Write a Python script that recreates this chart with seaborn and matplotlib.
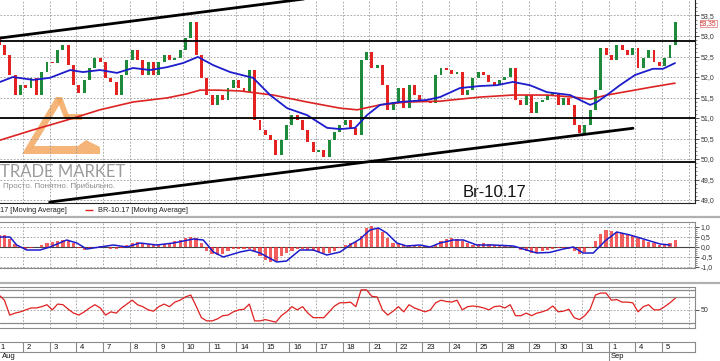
import numpy as np
import pandas as pd
import matplotlib
matplotlib.use('Agg')
import matplotlib.pyplot as plt
import seaborn as sns
from matplotlib.patches import Polygon
import matplotlib.transforms as mtrans

# ---- data ----
# hourly-ish closes, 5 bars per trading day
first_open = 52.95
closes = [52.78, 52.54, 52.05, 51.56, 51.80, 51.73, 51.98, 51.56, 52.12, 52.37,
          52.33, 52.66, 52.78, 52.29, 51.80, 51.61, 51.93, 52.22, 52.46, 52.37,
          51.98, 51.88, 51.56, 52.05, 52.41, 52.66, 52.41, 52.05, 52.37, 52.05,
          52.37, 52.54, 52.41, 52.46, 52.66, 52.95, 53.34, 52.54, 51.98, 51.56,
          51.32, 51.56, 51.44, 51.73, 51.93, 51.73, 51.63, 52.17, 50.95, 50.71,
          50.59, 50.46, 50.10, 50.46, 50.83, 51.07, 50.95, 50.71, 50.41, 50.17,
          50.22, 50.05, 50.46, 50.66, 50.83, 50.95, 50.76, 50.59, 52.41, 52.61,
          52.22, 52.29, 51.80, 51.20, 51.39, 51.73, 51.24, 51.80, 51.56, 51.44,
          51.39, 51.37, 52.05, 52.22, 52.17, 52.07, 52.12, 51.56, 51.68, 51.98,
          52.12, 52.05, 51.88, 51.80, 51.93, 52.00, 52.22, 51.44, 51.32, 51.56,
          51.12, 51.39, 51.44, 51.56, 51.61, 51.32, 51.49, 51.32, 50.83, 50.63,
          50.83, 51.20, 51.68, 52.71, 52.54, 52.41, 52.78, 52.66, 52.54, 52.71,
          52.22, 52.46, 52.66, 52.37, 52.27, 52.46, 52.78, 53.35]

# moving averages (day position, price)
blue_t = [0.14, 0.62, 1.38, 2.01, 2.77, 3.25, 3.89, 4.53, 5.13, 5.77, 6.41, 7.01, 7.57,
          8.14, 8.78, 9.64, 10.28, 10.92, 11.67, 12.42, 12.91, 13.47, 13.92, 14.41,
          15.16, 16.17, 16.66, 17.41, 18.16, 18.80, 19.40, 20.04, 20.68, 21.55, 21.92,
          22.30, 22.56, 22.93, 23.42, 23.99, 24.66, 25.04, 25.49]
blue_p = [51.88, 52.00, 51.93, 51.98, 52.17, 52.12, 52.17, 52.10, 52.22, 52.17, 52.24,
          52.34, 52.49, 52.29, 52.12, 51.98, 51.56, 51.24, 51.07, 50.76, 50.73, 50.76,
          51.07, 51.32, 51.39, 51.44, 51.51, 51.73, 51.78, 51.80, 51.88, 51.80, 51.63,
          51.56, 51.44, 51.32, 51.39, 51.56, 51.80, 52.05, 52.20, 52.20, 52.34]
red_t = [0.14, 1.38, 2.65, 3.89, 5.13, 6.41, 7.16, 7.65, 8.29, 9.15, 10.39, 11.67, 12.91,
         13.55, 14.41, 15.42, 16.66, 18.16, 19.40, 20.68, 21.66, 22.30, 22.93, 23.80,
         24.66, 25.49]
red_p = [50.46, 50.71, 50.95, 51.20, 51.39, 51.49, 51.59, 51.68, 51.68, 51.66, 51.56,
         51.39, 51.24, 51.20, 51.32, 51.39, 51.41, 51.51, 51.56, 51.56, 51.51, 51.46,
         51.56, 51.66, 51.76, 51.85]

levels = [52.88, 51.0, 49.92]
upper_t = [0.135, 12.0]
upper_p = [52.95, 53.94]
lower_t = [2.0, 23.91]
lower_p = [48.95, 50.75]
last_price = 53.35

macd_hist = [0.60, 0.58, 0.40, 0.15, -0.05, -0.10, -0.07, 0.00, 0.12, 0.18,
             0.25, 0.32, 0.35, 0.30, 0.20, -0.05, -0.15, -0.12, -0.05, 0.05,
             0.00, -0.08, -0.10, -0.05, 0.10, 0.22, 0.25, 0.22, 0.15, 0.10,
             0.10, 0.15, 0.22, 0.28, 0.35, 0.43, 0.50, 0.45, 0.20, -0.20,
             -0.37, -0.40, -0.36, -0.20, -0.12, -0.10, -0.10, -0.10, -0.20, -0.45,
             -0.65, -0.75, -0.68, -0.45, -0.32, -0.20, -0.10, -0.10, -0.13, -0.20,
             -0.27, -0.30, -0.30, -0.20, -0.05, 0.12, 0.20, 0.25, 0.55, 0.95,
             1.05, 0.97, 0.75, 0.45, 0.20, 0.15, 0.10, 0.10, 0.10, 0.07,
             0.03, -0.05, 0.08, 0.30, 0.40, 0.45, 0.40, 0.30, 0.20, 0.10,
             0.15, 0.20, 0.15, 0.10, 0.10, 0.10, 0.07, 0.00, -0.15, -0.22,
             -0.28, -0.28, -0.22, -0.15, -0.10, -0.07, -0.05, -0.12, -0.22, -0.35,
             -0.25, -0.05, 0.30, 0.65, 0.85, 0.80, 0.75, 0.70, 0.62, 0.55,
             0.45, 0.35, 0.27, 0.20, 0.12, 0.10, 0.20, 0.35]
sig_t = [0.14, 0.51, 0.76, 1.14, 1.64, 2.01, 2.64, 3.02, 3.39, 3.89, 4.39, 4.90, 5.39,
         6.02, 6.65, 7.40, 7.77, 8.15, 8.52, 9.15, 9.53, 9.90, 10.53, 10.90, 11.40,
         11.90, 12.41, 12.91, 13.28, 13.66, 14.03, 14.35, 14.66, 15.04, 15.41, 15.91,
         16.29, 16.66, 17.16, 17.54, 18.04, 18.66, 19.42, 19.79, 20.29, 20.79, 21.29,
         21.67, 22.04, 22.42, 22.86, 23.30, 23.80, 24.43, 24.93, 25.30]
sig_v = [0.5, 0.5, 0.1, -0.15, -0.15, 0.0, 0.35, 0.2, -0.1, 0.0, 0.1, 0.0, 0.2, 0.1, 0.2,
         0.4, 0.35, -0.25, -0.5, -0.25, -0.15, -0.3, -0.75, -0.7, -0.15, -0.15, -0.4,
         -0.25, 0.1, 0.4, 0.85, 0.95, 0.7, 0.2, 0.05, 0.1, 0.0, 0.2, 0.35, 0.35, 0.1,
         0.1, 0.05, -0.1, -0.3, -0.27, -0.1, 0.0, -0.3, -0.3, 0.3, 0.75, 0.6, 0.35,
         0.15, 0.1]

rsi = [73, 65, 42, 45, 47, 50, 53, 53, 55, 58,
       50, 59, 58, 51, 45, 42, 47, 53, 58, 53,
       42, 47, 45, 53, 59, 65, 58, 55, 50, 48,
       55, 59, 55, 62, 65, 70, 73, 56, 38, 33,
       33, 36, 41, 42, 47, 50, 51, 59, 33, 33,
       35, 33, 31, 41, 47, 55, 50, 55, 45, 38,
       38, 38, 47, 56, 61, 61, 62, 55, 81, 81,
       71, 70, 50, 42, 48, 55, 47, 58, 53, 50,
       47, 50, 61, 65, 63, 62, 65, 50, 55, 56,
       55, 53, 50, 55, 56, 53, 58, 41, 41, 45,
       41, 45, 47, 50, 56, 47, 48, 51, 38, 35,
       41, 51, 73, 76, 76, 65, 66, 62, 62, 61,
       47, 55, 58, 50, 50, 55, 61, 68]

day_labels = ['1', '2', '3', '4', '7', '8', '9', '10', '11', '14', '15', '16', '17',
              '18', '21', '22', '23', '24', '25', '28', '29', '30', '31', '1', '4', '5']
month_labels = ['Aug', 'Sep']
month_start = [0, 23]

# ---- layout ----
sns.set_style('white')
plt.rcParams['font.family'] = ['Liberation Sans', 'DejaVu Sans']

W, H = 720, 361
fig = plt.figure(figsize=(7.2, 3.61), dpi=100)
fig.patch.set_facecolor('white')


def rect(x0, y0, x1, y1):
    return [x0 / W, 1 - y1 / H, (x1 - x0) / W, (y1 - y0) / H]


XMIN, XMAX = 0.135, 26.24
GRID = dict(color='#9a9a9a', lw=0.6, ls=(0, (2, 2)))
bar_t = 0.1 + 0.2 * np.arange(len(closes))
df = pd.DataFrame({'t': bar_t, 'close': closes, 'hist': macd_hist, 'rsi': rsi})
df['open'] = [first_open] + closes[:-1]

# overlay for logo / separators / legend
ov = fig.add_axes([0, 0, 1, 1], zorder=0)
ov.set_xlim(0, W)
ov.set_ylim(H, 0)
ov.axis('off')
orange = '#f4a860'
for pts in [[(22, 154), (56, 97), (63, 99), (33, 148)],
            [(56, 97), (62, 97), (70, 118), (64, 118)],
            [(64, 114), (82, 114), (82, 120), (66, 120)],
            [(22, 154), (100, 154), (100, 147), (86, 140), (78, 146), (34, 146)]]:
    ov.add_patch(Polygon(pts, closed=True, facecolor=orange, edgecolor='none', alpha=0.85))
ov.text(0, 177, 'TRADE MARKET', fontsize=12, color='#9c9c9c', family=['Lato', 'DejaVu Sans'],
        va='baseline', ha='left')
ov.text(3, 186, 'Просто. Понятно. Прибыльно.', fontsize=5.8, color='#8a8a8a', va='center', ha='left')
ov.text(463, 197, 'Br-10.17', fontsize=12, color='#111111', va='baseline', ha='left')
ov.hlines([217, 283], 0, W, color='#b0b0b0', lw=1.6)
ov.text(0, 210, '17 [Moving Average]', fontsize=5.3, color='#222222', va='center', ha='left')
ov.hlines(210, 85, 93, color='#dd2222', lw=1)
ov.text(98, 210, 'BR-10.17 [Moving Average]', fontsize=5.3, color='#222222', va='center', ha='left')

# ---- main price panel ----
ax = fig.add_axes(rect(0, 0, 695, 203), zorder=2)
ax.patch.set_alpha(0)
ax.set_xlim(XMIN, XMAX)
ax.set_ylim(48.927, 53.878)
ax.set_xticks(range(1, 27))
ax.set_yticks(np.arange(49.0, 53.51, 0.5))
ax.set_yticks(np.arange(49.0, 53.81, 0.1), minor=True)
ax.grid(True, **GRID)
ax.set_axisbelow(True)

up = df['close'] >= df['open']
body_lo = np.minimum(df['open'], df['close'])
body_h = np.maximum((df['close'] - df['open']).abs(), 0.015)
ax.bar(df['t'], body_h, bottom=body_lo, width=0.11, linewidth=0,
       color=np.where(up, '#1f8a3a', '#e52222'), zorder=3)
sns.lineplot(x=red_t, y=red_p, ax=ax, color='#dd2222', lw=1.2, legend=False, zorder=4)
sns.lineplot(x=blue_t, y=blue_p, ax=ax, color='#1c1ccc', lw=1.3, legend=False, zorder=4)
for lv in levels:
    ax.axhline(lv, color='black', lw=1.3, zorder=5)
ax.plot(upper_t, upper_p, color='black', lw=2, zorder=5)
ax.plot(lower_t, lower_p, color='black', lw=2, zorder=5)

ax.yaxis.tick_right()
ax.set_yticklabels([f'{v:.1f}'.replace('.', ',') for v in np.arange(49.0, 53.51, 0.5)])
ax.tick_params(axis='y', which='major', length=3, width=0.6, labelsize=5, colors='#333333', pad=1)
ax.tick_params(axis='y', which='minor', length=1.5, width=0.5, colors='#555555')
ax.tick_params(axis='x', length=0, labelbottom=False)
for s in ['top', 'left']:
    ax.spines[s].set_visible(False)
for s in ['right', 'bottom']:
    ax.spines[s].set_color('#222222')
    ax.spines[s].set_linewidth(0.8)
price_tr = mtrans.blended_transform_factory(ax.transAxes, ax.transData) + \
    mtrans.ScaledTranslation(0, -2 / 100, fig.dpi_scale_trans)
ax.text(1.007, last_price, f'{last_price:.2f}'.replace('.', ','), transform=price_tr,
        fontsize=4.8, color='#d03030', va='center', ha='left', clip_on=False,
        bbox=dict(facecolor='white', edgecolor='#e07070', lw=0.5, pad=0.2))

# ---- MACD panel ----
am = fig.add_axes(rect(0, 222, 695, 268), zorder=2)
am.patch.set_alpha(0)
am.set_xlim(XMIN, XMAX)
am.set_ylim(-1.05, 1.25)
am.set_xticks(range(1, 27))
am.set_yticks([1.0, 0.5, -0.5, -1.0])
am.grid(True, **GRID)
am.axhline(0, color='#444444', lw=0.8, zorder=2)
am.bar(df['t'], df['hist'], width=0.12, color='#f02a2a', alpha=0.75, linewidth=0, zorder=3)
sns.lineplot(x=sig_t, y=sig_v, ax=am, color='#1c1ccc', lw=1.1, legend=False, zorder=4)
am.yaxis.tick_right()
am.set_yticks([1.0, 0.5, 0.0, -0.5, -1.0])
am.set_yticklabels(['1,0', '0,5', '0,0', '-0,5', '-1,0'])
am.set_yticks(np.arange(-1.0, 1.01, 0.1), minor=True)
am.tick_params(axis='y', which='major', length=3, width=0.6, labelsize=5, colors='#333333', pad=1)
am.tick_params(axis='y', which='minor', length=1.5, width=0.5, colors='#555555')
am.tick_params(axis='x', length=0, labelbottom=False)
am.spines['left'].set_visible(False)
for s in ['top', 'bottom', 'right']:
    am.spines[s].set_color('#8a8a8a')
    am.spines[s].set_linewidth(0.8)

# ---- RSI panel ----
ar = fig.add_axes(rect(0, 287, 695, 328), zorder=2)
ar.patch.set_alpha(0)
ar.set_xlim(XMIN, XMAX)
ar.set_ylim(22, 85.4)
ar.set_xticks(range(1, 27))
ar.set_yticks([50])
ar.grid(True, **GRID)
for lv in [80, 70, 30]:
    ar.axhline(lv, color='#8a8a8a', lw=0.9, zorder=2)
sns.lineplot(x='t', y='rsi', data=df, ax=ar, color='#e02020', lw=0.9, legend=False, zorder=4)
ar.yaxis.tick_right()
ar.set_yticklabels(['50'])
ar.set_ylabel('')
ar.set_xlabel('')
ar.tick_params(axis='y', length=3, width=0.6, labelsize=5, colors='#333333', pad=1)
ar.tick_params(axis='x', length=0, labelbottom=False)
ar.spines['left'].set_visible(False)
for s in ['top', 'bottom', 'right']:
    ar.spines[s].set_color('#8a8a8a')
    ar.spines[s].set_linewidth(0.8)
for a in (ax, am):
    a.set_xlabel('')
    a.set_ylabel('')

# ---- date row ----
ad = fig.add_axes(rect(0, 342, 695, 352), zorder=2)
ad.patch.set_alpha(0)
ad.set_xlim(XMIN, XMAX)
ad.set_ylim(0, 1)
ad.set_xticks([])
ad.set_yticks([])
ad.spines['left'].set_visible(False)
for s in ['top', 'bottom', 'right']:
    ad.spines[s].set_color('#8a8a8a')
    ad.spines[s].set_linewidth(0.8)
ad.vlines(range(1, len(day_labels)), 0, 1, color='#8a8a8a', lw=0.8)
for k, lab in enumerate(day_labels):
    ad.text(k + 0.15, 0.45, lab, fontsize=5.5, color='#111111', va='center', ha='left')
for m, k in zip(month_labels, month_start):
    ad.text(max(k, XMIN) + 0.06, -0.45, m, fontsize=5.5, color='#111111', va='center', ha='left',
            clip_on=False)
ad.vlines(month_start[1], -0.95, 0, color='#8a8a8a', lw=0.8, clip_on=False)

fig.savefig('out.png', dpi=100, facecolor='white')
